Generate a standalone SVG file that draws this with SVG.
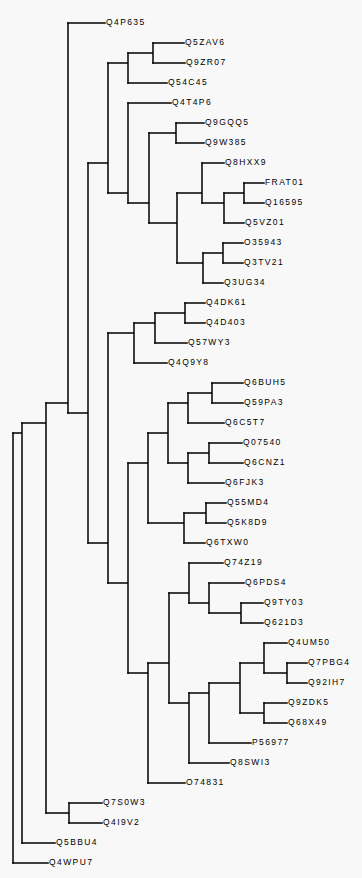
<svg xmlns="http://www.w3.org/2000/svg" width="362" height="878" viewBox="0 0 362 878">
<style>
.bg{fill:#f8f8f8}
.e{fill:none;stroke:#000;stroke-width:1.5;stroke-linecap:square}
text{font-family:"Liberation Sans",Arial,sans-serif;font-size:8.5px;letter-spacing:1.4px;fill:#000}
</style>
<rect class="bg" x="0" y="0" width="362" height="878"/>
<g id="connectors">
<path class="e" d="M13,433V863"/>
<path class="e" d="M13,433H22M22,423V843"/>
<path class="e" d="M22,423H46M46,403V813"/>
<path class="e" d="M46,403H68M68,23V413"/>
<path class="e" d="M46,813H69M69,803V823"/>
<path class="e" d="M68,413H88M88,163V543"/>
<path class="e" d="M88,163H108M108,63V193"/>
<path class="e" d="M108,63H128M128,53V83"/>
<path class="e" d="M128,53H153M153,43V63"/>
<path class="e" d="M108,193H128M128,103V203"/>
<path class="e" d="M128,203H149M149,133V223"/>
<path class="e" d="M149,133H176M176,123V143"/>
<path class="e" d="M149,223H177M177,193V263"/>
<path class="e" d="M177,193H202M202,163V203"/>
<path class="e" d="M202,203H224M224,193V223"/>
<path class="e" d="M224,193H244M244,183V203"/>
<path class="e" d="M177,263H203M203,253V283"/>
<path class="e" d="M203,253H223M223,243V263"/>
<path class="e" d="M88,543H108M108,333V583"/>
<path class="e" d="M108,333H134M134,323V363"/>
<path class="e" d="M134,323H155M155,313V343"/>
<path class="e" d="M155,313H185M185,303V323"/>
<path class="e" d="M108,583H128M128,463V673"/>
<path class="e" d="M128,463H148M148,433V523"/>
<path class="e" d="M148,433H168M168,403V463"/>
<path class="e" d="M168,403H188M188,393V423"/>
<path class="e" d="M188,393H212M212,383V403"/>
<path class="e" d="M168,463H188M188,453V483"/>
<path class="e" d="M188,453H209M209,443V463"/>
<path class="e" d="M148,523H184M184,513V543"/>
<path class="e" d="M184,513H206M206,503V523"/>
<path class="e" d="M128,673H148M148,663V783"/>
<path class="e" d="M148,663H169M169,593V703"/>
<path class="e" d="M169,593H189M189,563V603"/>
<path class="e" d="M189,603H209M209,583V613"/>
<path class="e" d="M209,613H241M241,603V623"/>
<path class="e" d="M169,703H189M189,693V763"/>
<path class="e" d="M189,693H209M209,683V743"/>
<path class="e" d="M209,683H240M240,663V713"/>
<path class="e" d="M240,663H264M264,643V673"/>
<path class="e" d="M264,673H287M287,663V683"/>
<path class="e" d="M240,713H264M264,703V723"/>
<path class="e" d="M68,23H105"/>
<path class="e" d="M153,43H184"/>
<path class="e" d="M153,63H185"/>
<path class="e" d="M128,83H167"/>
<path class="e" d="M128,103H171"/>
<path class="e" d="M176,123H204"/>
<path class="e" d="M176,143H204"/>
<path class="e" d="M202,163H224"/>
<path class="e" d="M244,183H264"/>
<path class="e" d="M244,203H264"/>
<path class="e" d="M224,223H244"/>
<path class="e" d="M223,243H243"/>
<path class="e" d="M223,263H243"/>
<path class="e" d="M203,283H223"/>
<path class="e" d="M185,303H205"/>
<path class="e" d="M185,323H205"/>
<path class="e" d="M155,343H187"/>
<path class="e" d="M134,363H167"/>
<path class="e" d="M212,383H243"/>
<path class="e" d="M212,403H243"/>
<path class="e" d="M188,423H224"/>
<path class="e" d="M209,443H242"/>
<path class="e" d="M209,463H243"/>
<path class="e" d="M188,483H224"/>
<path class="e" d="M206,503H226"/>
<path class="e" d="M206,523H226"/>
<path class="e" d="M184,543H205"/>
<path class="e" d="M189,563H223"/>
<path class="e" d="M209,583H244"/>
<path class="e" d="M241,603H263"/>
<path class="e" d="M241,623H263"/>
<path class="e" d="M264,643H287"/>
<path class="e" d="M287,663H307"/>
<path class="e" d="M287,683H307"/>
<path class="e" d="M264,703H287"/>
<path class="e" d="M264,723H287"/>
<path class="e" d="M209,743H251"/>
<path class="e" d="M189,763H229"/>
<path class="e" d="M148,783H185"/>
<path class="e" d="M69,803H102"/>
<path class="e" d="M69,823H102"/>
<path class="e" d="M22,843H55"/>
<path class="e" d="M13,863H48"/>
</g>
<g id="n-Q4P635"><text x="106" y="25">Q4P635</text></g>
<g id="n-Q5ZAV6"><text x="185" y="45">Q5ZAV6</text></g>
<g id="n-Q9ZR07"><text x="186" y="65">Q9ZR07</text></g>
<g id="n-Q54C45"><text x="168" y="85">Q54C45</text></g>
<g id="n-Q4T4P6"><text x="172" y="105">Q4T4P6</text></g>
<g id="n-Q9GQQ5"><text x="205" y="125">Q9GQQ5</text></g>
<g id="n-Q9W385"><text x="205" y="145">Q9W385</text></g>
<g id="n-Q8HXX9"><text x="225" y="165">Q8HXX9</text></g>
<g id="n-FRAT01"><text x="265" y="185">FRAT01</text></g>
<g id="n-Q16595"><text x="265" y="205">Q16595</text></g>
<g id="n-Q5VZ01"><text x="245" y="225">Q5VZ01</text></g>
<g id="n-O35943"><text x="244" y="245">O35943</text></g>
<g id="n-Q3TV21"><text x="244" y="265">Q3TV21</text></g>
<g id="n-Q3UG34"><text x="224" y="285">Q3UG34</text></g>
<g id="n-Q4DK61"><text x="206" y="305">Q4DK61</text></g>
<g id="n-Q4D403"><text x="206" y="325">Q4D403</text></g>
<g id="n-Q57WY3"><text x="188" y="345">Q57WY3</text></g>
<g id="n-Q4Q9Y8"><text x="168" y="365">Q4Q9Y8</text></g>
<g id="n-Q6BUH5"><text x="244" y="385">Q6BUH5</text></g>
<g id="n-Q59PA3"><text x="244" y="405">Q59PA3</text></g>
<g id="n-Q6C5T7"><text x="225" y="425">Q6C5T7</text></g>
<g id="n-Q07540"><text x="243" y="445">Q07540</text></g>
<g id="n-Q6CNZ1"><text x="244" y="465">Q6CNZ1</text></g>
<g id="n-Q6FJK3"><text x="225" y="485">Q6FJK3</text></g>
<g id="n-Q55MD4"><text x="227" y="505">Q55MD4</text></g>
<g id="n-Q5K8D9"><text x="227" y="525">Q5K8D9</text></g>
<g id="n-Q6TXW0"><text x="206" y="545">Q6TXW0</text></g>
<g id="n-Q74Z19"><text x="224" y="565">Q74Z19</text></g>
<g id="n-Q6PDS4"><text x="245" y="585">Q6PDS4</text></g>
<g id="n-Q9TY03"><text x="264" y="605">Q9TY03</text></g>
<g id="n-Q621D3"><text x="264" y="625">Q621D3</text></g>
<g id="n-Q4UM50"><text x="288" y="645">Q4UM50</text></g>
<g id="n-Q7PBG4"><text x="308" y="665">Q7PBG4</text></g>
<g id="n-Q92IH7"><text x="308" y="685">Q92IH7</text></g>
<g id="n-Q9ZDK5"><text x="288" y="705">Q9ZDK5</text></g>
<g id="n-Q68X49"><text x="288" y="725">Q68X49</text></g>
<g id="n-P56977"><text x="252" y="745">P56977</text></g>
<g id="n-Q8SWI3"><text x="230" y="765">Q8SWI3</text></g>
<g id="n-O74831"><text x="186" y="785">O74831</text></g>
<g id="n-Q7S0W3"><text x="103" y="805">Q7S0W3</text></g>
<g id="n-Q4I9V2"><text x="103" y="825">Q4I9V2</text></g>
<g id="n-Q5BBU4"><text x="56" y="845">Q5BBU4</text></g>
<g id="n-Q4WPU7"><text x="49" y="865">Q4WPU7</text></g>
</svg>
